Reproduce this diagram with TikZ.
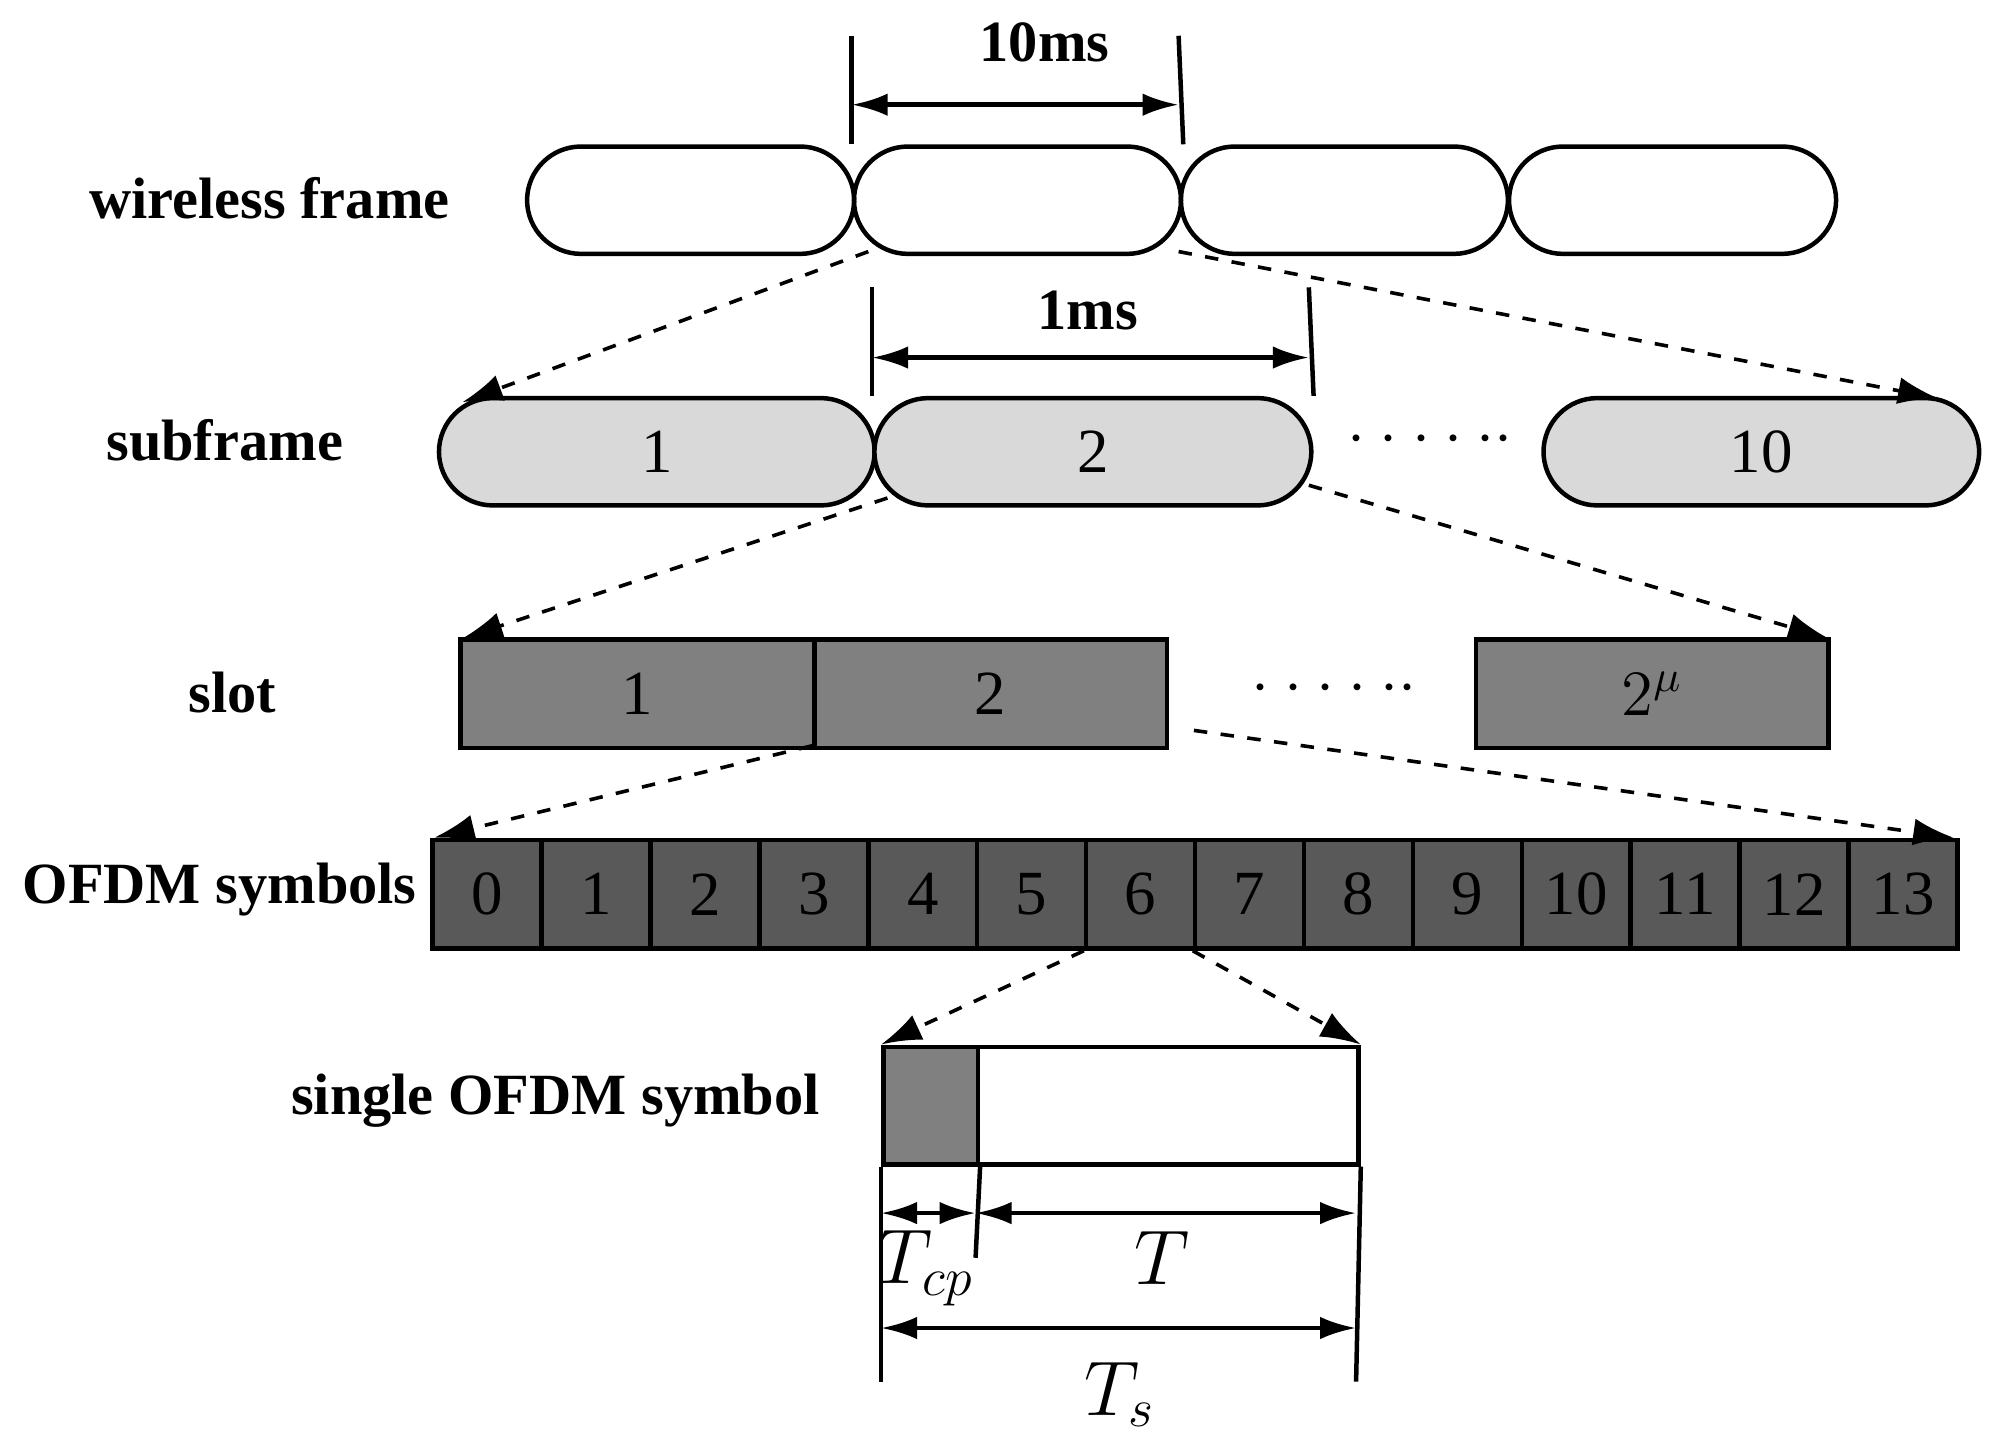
\documentclass[tikz,border=0pt]{standalone}
\usepackage{fontspec}
\setmainfont{Liberation Serif}
\usetikzlibrary{arrows.meta}
\begin{document}
\begin{tikzpicture}[x=0.01cm,y=-0.01cm,
 lab/.style={font=\fontsize{13}{15}\selectfont\bfseries},
 num/.style={font=\fontsize{14}{16}\selectfont},
 fr/.style={draw,line width=1pt,rounded corners=12pt,minimum height=0.84cm,anchor=north west,inner sep=0},
 sq/.style={draw,line width=1pt,minimum height=0.85cm,anchor=north west,inner sep=0},
 dsh/.style={dashed,line width=0.8pt,-{Latex[length=9pt,width=6pt]}},
 dim/.style={line width=1pt,{Latex[length=8pt,width=5pt]}-{Latex[length=8pt,width=5pt]}},
 vl/.style={line width=1pt}]
\useasboundingbox (0,0) rectangle (1560,1130);
% wireless frames
\foreach \i/\x in {1/411,2/667,3/923,4/1180}
  \node[fr,minimum width=2.56cm] (w\i) at (\x,113) {};
\node[lab] (lw) at (211,155) {wireless frame};
\coordinate (a1) at (667,28); \coordinate (a2) at (923,28);
\draw[vl] (a1) -- (w2.north west); \draw[vl] (a2) -- (w2.north east);
\coordinate (d1) at (667,82); \coordinate (d2) at (923,82);
\draw[dim] (d1) -- (d2);
\node[lab] (t10) at (818,33) {10ms};
% subframes
\node[fr,fill=black!15,minimum width=3.41cm] (s1) at (342,310) {};
\node[fr,fill=black!15,minimum width=3.42cm] (s2) at (683,310) {};
\node[fr,fill=black!15,minimum width=3.41cm] (s10) at (1207,310) {};
\node[num] at (s1) {1}; \node[num] at (s2) {2}; \node[num] at (s10) {10};
\node[num] (sd) at (1120,345) {\textbf{$\cdot\cdot\cdot\cdot\cdot\cdot$}};
\node[lab] (ls) at (176,345) {subframe};
\coordinate (b1) at (683,225); \coordinate (b2) at (1025,225);
\draw[vl] (b1) -- (s2.north west); \draw[vl] (b2) -- (s2.north east);
\coordinate (e1) at (683,280); \coordinate (e2) at (1025,280);
\draw[dim] (e1) -- (e2);
\node[lab] (t1) at (852,243) {1ms};
\coordinate (f1) at (680,197); \coordinate (f2) at (362,315);
\coordinate (f3) at (923,197); \coordinate (f4) at (1518,312);
\draw[dsh] (f1) -- (f2); \draw[dsh] (f3) -- (f4);
% slots
\node[sq,fill=black!50,minimum width=2.77cm] (l1) at (359,499) {};
\node[sq,fill=black!50,minimum width=2.76cm] (l2) at (636,499) {};
\node[sq,fill=black!50,minimum width=2.76cm] (lm) at (1154,499) {};
\node[num] at (l1) {1}; \node[num] at (l2) {2}; \node[num] at (lm) {$2^{\mu}$};
\node[num] (ld) at (1045,540) {\textbf{$\cdot\cdot\cdot\cdot\cdot\cdot$}};
\node[lab] (lsl) at (182,542) {slot};
\coordinate (g1) at (695,390); \coordinate (g2) at (362,500);
\coordinate (g3) at (1025,380); \coordinate (g4) at (1432,500);
\draw[dsh] (g1) -- (g2); \draw[dsh] (g3) -- (g4);
% OFDM symbols
\foreach \i in {0,...,13}
  \node[sq,fill=black!65,minimum width=0.853cm,minimum height=0.85cm] (o\i) at ({337+85.3*\i},656) {\fontsize{14}{16}\selectfont\i};
\node[lab] (lo) at (172,697) {OFDM symbols};
\coordinate (h1) at (636,584); \coordinate (h2) at (340,656);
\coordinate (h3) at (935,572); \coordinate (h4) at (1530,656);
\draw[dsh] (h1) -- (h2); \draw[dsh] (h3) -- (h4);
% single symbol
\node[sq,fill=black!50,minimum width=0.74cm,minimum height=0.92cm] (cp) at (690,818) {};
\node[sq,minimum width=2.98cm,minimum height=0.92cm] (sy) at (764,818) {};
\node[lab] (lss) at (435,862) {single OFDM symbol};
\draw[dsh] (o6.south west) -- (cp.north west);
\draw[dsh] (o7.south west) -- (sy.north east);
\coordinate (v1) at (690,1082); \coordinate (v2) at (764,985); \coordinate (v3) at (1062,1082);
\draw[vl] (cp.south west) -- (v1); \draw[vl] (cp.south east) -- (v2); \draw[vl] (sy.south east) -- (v3);
\coordinate (k1) at (690,950); \coordinate (k2) at (764,950); \coordinate (k3) at (1062,950);
\draw[dim] (k1) -- (k2); \draw[dim] (k2) -- (k3);
\coordinate (m1) at (690,1040); \coordinate (m2) at (1062,1040);
\draw[dim] (m1) -- (m2);
\node[num] (tT) at (910,985) {\fontsize{17}{19}\selectfont$T$};
\node[num] (tcp) at (725,993) {\fontsize{17}{19}\selectfont$T_{cp}$};
\node[num] (ts) at (877,1092) {\fontsize{17}{19}\selectfont$T_s$};
\end{tikzpicture}
\end{document}
